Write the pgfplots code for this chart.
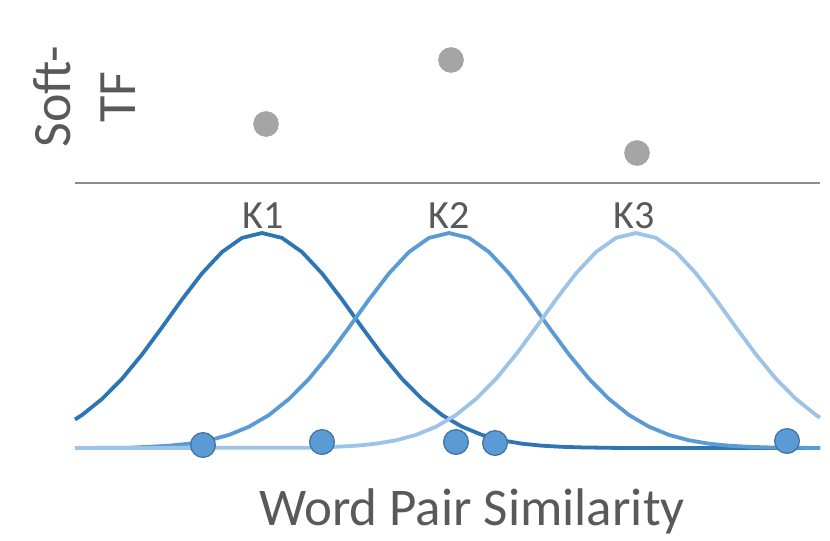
\documentclass[border=0pt]{standalone}
\usepackage{pgfplots}
\pgfplotsset{compat=1.18}
\usepackage{fontspec}
\setmainfont{Carlito}
\definecolor{txt}{HTML}{595959}
\definecolor{kdark}{HTML}{2E75B6}
\definecolor{kmid}{HTML}{5B9BD5}
\definecolor{klight}{HTML}{9DC3E6}
\definecolor{dotedge}{HTML}{41719C}
\definecolor{greydot}{HTML}{A5A5A5}
\definecolor{greyline}{HTML}{8C8C8C}
\begin{document}
\begin{tikzpicture}
\begin{axis}[
  scale only axis, width=415bp, height=267bp,
  xmin=0, xmax=830, ymin=0, ymax=534,
  axis lines=none, clip=false,
]
\path (axis cs:0,0) rectangle (axis cs:830,534);
% grey separator line
\addplot[greyline, line width=1.4bp] coordinates {(75,351) (820,351)};
% Soft-TF grey dots
\addplot[only marks, mark=*, mark size=6.2bp, greydot, mark options={draw=none, fill=greydot}]
  coordinates {(266,410) (451,474) (637,381)};
% K1
\addplot[kdark, line width=1.9bp] coordinates {
(75,114.5) (82,119.0) (102,135.0) (122,155.2) (142,179.5) (162,206.6) (182,234.5)
(202,260.6) (222,282.0) (242,296.1) (262,301) (282,296.1) (302,282.0) (322,260.6)
(342,234.5) (362,206.6) (382,179.5) (402,155.2) (422,135.0) (442,119.0) (462,107.3)
(482,99.1) (502,93.7) (522,90.3) (542,88.3) (562,87.2) (582,86.6) (602,86.3) (622,86) (820,86)};
% K2
\addplot[kmid, line width=1.9bp] coordinates {
(75,86) (129,86.3) (149,87.2) (169,88.3) (189,90.3) (209,93.7) (229,99.1) (249,107.3)
(269,119.0) (289,135.0) (309,155.2) (329,179.5) (349,206.6) (369,234.5) (389,260.6)
(409,282.0) (429,296.1) (449,301) (469,296.1) (489,282.0) (509,260.6) (529,234.5)
(549,206.6) (569,179.5) (589,155.2) (609,135.0) (629,119.0) (649,107.3) (669,99.1)
(689,93.7) (709,90.3) (729,88.3) (749,87.2) (769,86.6) (789,86.3) (820,86)};
% K3
\addplot[klight, line width=1.9bp] coordinates {
(75,86) (316,86.3) (336,87.2) (356,88.3) (376,90.3) (396,93.7) (416,99.1) (436,107.3)
(456,119.0) (476,135.0) (496,155.2) (516,179.5) (536,206.6) (556,234.5) (576,260.6)
(596,282.0) (616,296.1) (636,301) (656,296.1) (676,282.0) (696,260.6) (716,234.5)
(736,206.6) (756,179.5) (776,155.2) (796,135.0) (816,119.0) (820,116.3)};
% word pair dots
\addplot[only marks, mark=*, mark size=6.2bp, mark options={draw=dotedge, fill=kmid, line width=0.6bp}]
  coordinates {(203,89) (322,92) (456,92) (495,91) (787,93)};
% labels
\node[anchor=base, text=txt, font=\fontsize{20bp}{24bp}\selectfont] at (axis cs:263,305) {K1};
\node[anchor=base, text=txt, font=\fontsize{20bp}{24bp}\selectfont] at (axis cs:449,305) {K2};
\node[anchor=base, text=txt, font=\fontsize{20bp}{24bp}\selectfont] at (axis cs:634,305) {K3};
\node[anchor=base, text=txt, font=\fontsize{26.5bp}{32bp}\selectfont] at (axis cs:472,9) {Word Pair Similarity};
\node[rotate=90, align=center, text=txt, font=\fontsize{27bp}{32.5bp}\selectfont] at (axis cs:84,437) {Soft-\\TF};
\end{axis}
\end{tikzpicture}
\end{document}
